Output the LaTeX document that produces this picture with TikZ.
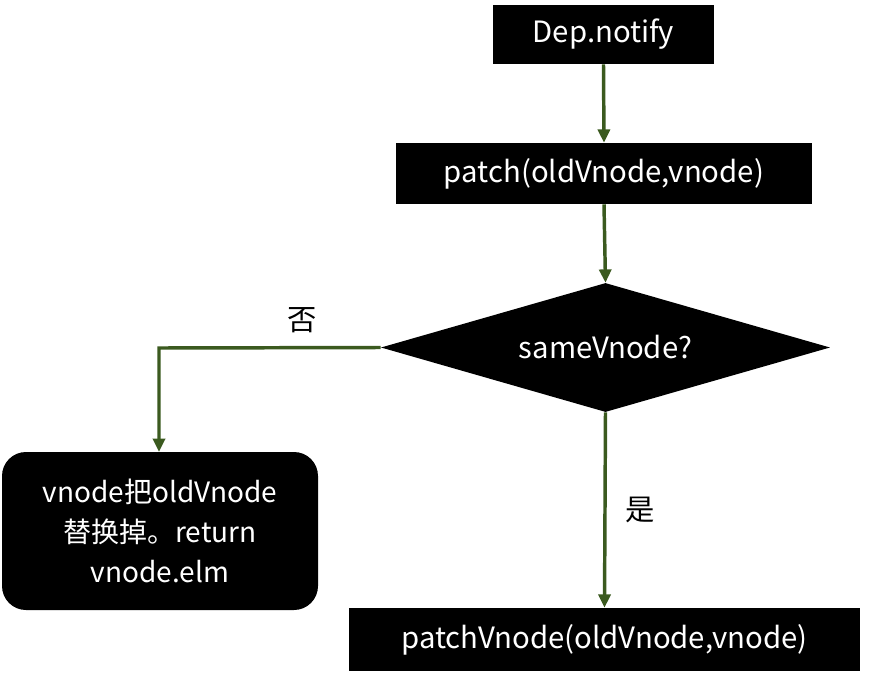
\documentclass[tikz,border=0pt]{standalone}
\usepackage{fontspec}
\setmainfont{Noto Sans CJK SC}
\usetikzlibrary{shapes.geometric,arrows.meta}
\definecolor{arr}{HTML}{3B5A1F}
\begin{document}
\begin{tikzpicture}[x=0.75pt,y=-0.75pt,
  box/.style={fill=black,text=white,inner sep=0pt,font=\fontsize{22}{26}\selectfont},
  con/.style={draw=arr,line width=2.6pt,-{Triangle[length=10pt,width=9pt]}}]
\useasboundingbox (0,0) rectangle (869,686);
\node[box,minimum width=221*0.75pt,minimum height=59*0.75pt] (dep) at (603.5,34.5) {Dep.notify};
\node[box,minimum width=416*0.75pt,minimum height=61*0.75pt] (patch) at (604,173.5) {patch(oldVnode,vnode)};
\node[box,diamond,aspect=3.48,minimum width=449*0.75pt,minimum height=129*0.75pt] (same) at (605.5,347.5) {sameVnode?};
\node[box,rounded corners=18pt,minimum width=316*0.75pt,minimum height=158*0.75pt,align=center,font=\fontsize{21}{30}\selectfont] (rep) at (160,531) {vnode把oldVnode\\替换掉。return\\vnode.elm};
\node[box,minimum width=511*0.75pt,minimum height=63*0.75pt] (pv) at (604.5,639.5) {patchVnode(oldVnode,vnode)};
\draw[con] (dep.south) -- (patch.north);
\draw[con] (patch.south) -- (same.north);
\draw[con] (same.south) -- (pv.north);
\coordinate (corner) at (159,348);
\draw[con] (same.west) -- (corner) -- (159,452);
\node[font=\fontsize{22}{26}\selectfont] (no) at (302,320) {否};
\node[font=\fontsize{22}{26}\selectfont] (yes) at (640,510) {是};
\end{tikzpicture}
\end{document}
